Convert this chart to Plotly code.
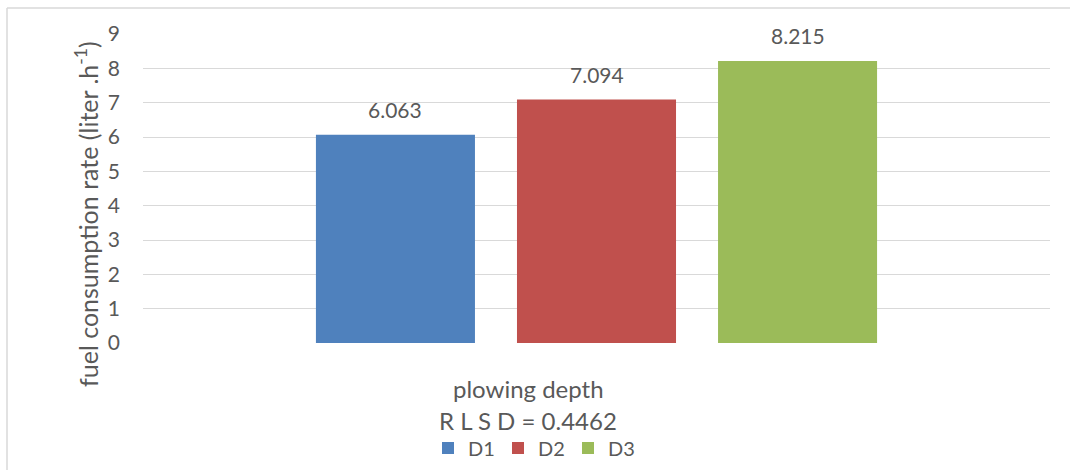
import plotly.graph_objects as go

categories = ["plowing depth"]
series_names = ["D1", "D2", "D3"]
series_values = [6.063, 7.094, 8.215]
colors = ["#4F81BD", "#C0504D", "#9BBB59"]
rlsd_text = "R L S D = 0.4462"
y_title = "fuel consumption rate (liter .h<sup>-1</sup>)"
y_ticks = list(range(0, 10))

W, H = 1070, 470
ml, mr, mt, mb = 143, 20, 34, 127
FONT = "Lato"
TXT = "#595959"
bargap = 0.335
n = len(series_names)
pw = W - ml - mr
pf = H - mt - mb


def px2x(px):
    return (px - ml) / pw


def px2y(py):
    return (H - mb - py) / pf


fig = go.Figure()
for name, val, col in zip(series_names, series_values, colors):
    fig.add_trace(go.Bar(x=categories, y=[val], name=name, marker_color=col,
                         marker_line_width=0))

slot = (1 - bargap) / n
for i, val in enumerate(series_values):
    fig.add_annotation(x=(i - (n - 1) / 2) * slot, y=val, xref="x", yref="y",
                       text=f"{val:.3f}", showarrow=False, yanchor="middle", yshift=25,
                       font=dict(family=FONT, size=21, color=TXT))

fig.add_annotation(x=px2x(528), y=px2y(388), xref="paper", yref="paper", yanchor="middle",
                   text=categories[0], showarrow=False, font=dict(family=FONT, size=24, color=TXT))
fig.add_annotation(x=px2x(528), y=px2y(420), xref="paper", yref="paper", yanchor="middle",
                   text=rlsd_text, showarrow=False, font=dict(family=FONT, size=24, color=TXT))
# y-axis title (placed like the original, slightly below the plot centre)
fig.add_annotation(x=px2x(86), y=px2y(214), xref="paper", yref="paper", xanchor="center",
                   yanchor="middle", textangle=-90, text=y_title, showarrow=False,
                   font=dict(family=FONT, size=25, color=TXT))

fig.update_layout(
    width=W, height=H,
    margin=dict(l=ml, r=mr, t=mt, b=mb, autoexpand=False),
    paper_bgcolor="white", plot_bgcolor="white",
    barmode="group", bargap=bargap, bargroupgap=0.209,
    font=dict(family=FONT, size=20, color=TXT),
    showlegend=True,
    legend=dict(orientation="h", x=px2x(533), xanchor="center", y=px2y(448), yanchor="middle",
                font=dict(family=FONT, size=20, color=TXT), itemwidth=30,
                entrywidth=25, entrywidthmode="pixels",
                bgcolor="rgba(0,0,0,0)"),
    xaxis=dict(showticklabels=False, showgrid=False, zeroline=False, showline=False),
    yaxis=dict(range=[0, 9], tickvals=y_ticks, showgrid=True, gridcolor="#D9D9D9", gridwidth=1,
               zeroline=False, showline=False, ticklabelstandoff=22,
               tickfont=dict(family=FONT, size=21, color=TXT)),
)

# chart-area frame (top and left edges)
fig.add_shape(type="line", xref="paper", yref="paper", x0=px2x(7), x1=px2x(1070),
              y0=px2y(8), y1=px2y(8), line=dict(color="#D9D9D9", width=1.5))
fig.add_shape(type="line", xref="paper", yref="paper", x0=px2x(7), x1=px2x(7),
              y0=px2y(8), y1=px2y(470), line=dict(color="#D9D9D9", width=1.5))

fig.write_html("out.html")
